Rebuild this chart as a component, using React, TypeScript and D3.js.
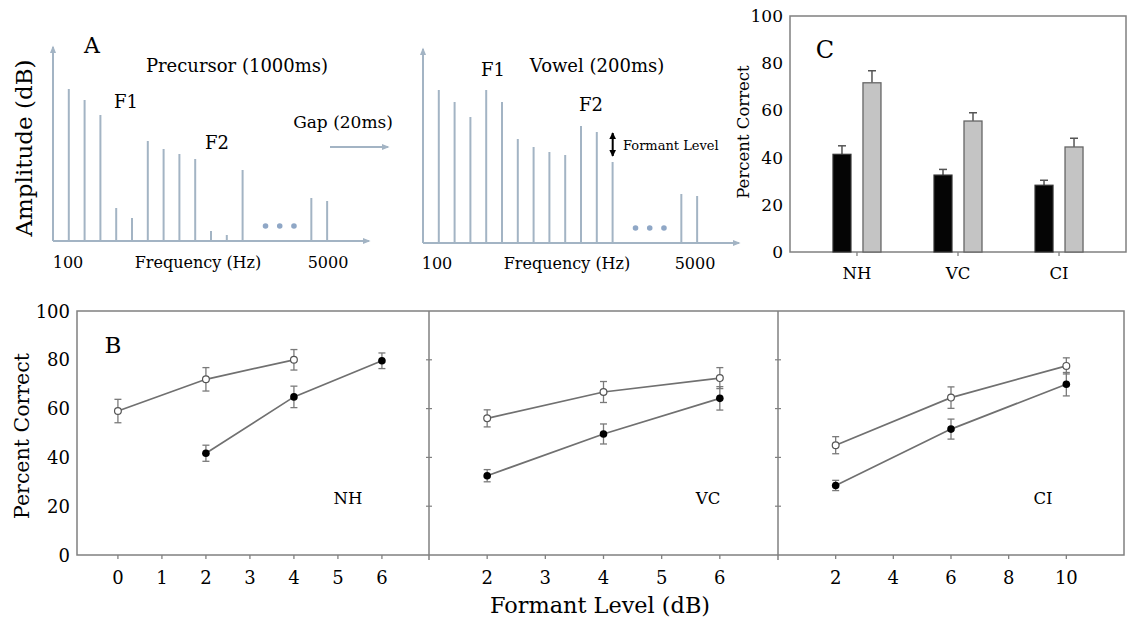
import React from 'react';
import * as d3 from 'd3';

// Panel A: harmonic spectra (arbitrary amplitude units)
const harmonicIndex = [1, 2, 3, 4, 5, 6, 7, 8, 9, 10, 11, 12];
const precursorAmp = [152, 141, 126, 33, 23, 100, 92, 87, 82, 10, 6, 71];
const vowelAmp = [153, 141, 126, 153, 141, 104, 96, 91, 88, 117, 111, 81];
const highIndex = [16.35, 17.35];
const precursorHighAmp = [43, 40];
const vowelHighAmp = [49, 47];
const ellipsisIndex = [13.45, 14.35, 15.25];
const ellipsisAmp = 15;

// Panel B: percent correct vs formant level
const nhOpenLevels = [0, 2, 4];
const nhOpen = [59, 72, 80];
const nhOpenErr = [4.8, 4.8, 4.2];
const nhFilledLevels = [2, 4, 6];
const nhFilled = [41.7, 64.8, 79.6];
const nhFilledErr = [3.3, 4.4, 3.2];

const vcLevels = [2, 4, 6];
const vcOpen = [56, 66.8, 72.5];
const vcOpenErr = [3.5, 4.3, 4.3];
const vcFilled = [32.5, 49.6, 64.2];
const vcFilledErr = [2.5, 4.1, 4.8];

const ciLevels = [2, 6, 10];
const ciOpen = [45, 64.5, 77.5];
const ciOpenErr = [3.5, 4.4, 3.3];
const ciFilled = [28.5, 51.6, 70];
const ciFilledErr = [2.1, 4.1, 4.8];

const nhTicks = [0, 1, 2, 3, 4, 5, 6];
const vcTicks = [2, 3, 4, 5, 6];
const ciTicks = [2, 4, 6, 8, 10];
const percentTicks = [0, 20, 40, 60, 80, 100];

// Panel C: bar summary
const groups = ['NH', 'VC', 'CI'];
const blackBars = [41.4, 32.6, 28.3];
const blackErr = [3.6, 2.4, 2.1];
const grayBars = [71.7, 55.5, 44.5];
const grayErr = [5.1, 3.5, 3.7];

const FONT = '"DejaVu Serif", serif';
const AX = '#a3b4c4';

type SpecProps = { x0: number; base: number; amps: number[]; highAmps: number[] };

const Spectrum = ({ x0, base, amps, highAmps }: SpecProps) => {
  const x = d3.scaleLinear().domain([0, 20]).range([x0, x0 + 20 * 15.8]);
  const y = d3.scaleLinear().domain([0, 194]).range([base, base - 194]);
  return (
    <g>
      <line x1={x(0)} x2={x(20)} y1={y(0)} y2={y(0)} stroke={AX} strokeWidth={2} markerEnd="url(#axArrow)" />
      <line x1={x(0)} x2={x(0)} y1={y(0)} y2={y(194)} stroke={AX} strokeWidth={2} markerEnd="url(#axArrow)" />
      {harmonicIndex.map((h, i) => (
        <line key={h} x1={x(h)} x2={x(h)} y1={y(0)} y2={y(amps[i])} stroke={AX} strokeWidth={2} />
      ))}
      {highIndex.map((h, i) => (
        <line key={h} x1={x(h)} x2={x(h)} y1={y(0)} y2={y(highAmps[i])} stroke={AX} strokeWidth={2} />
      ))}
      {ellipsisIndex.map(h => (
        <circle key={h} cx={x(h)} cy={y(ellipsisAmp)} r={2.8} fill="#8fa7c6" />
      ))}
    </g>
  );
};

type SeriesProps = {
  x: d3.ScaleLinear<number, number>;
  y: d3.ScaleLinear<number, number>;
  levels: number[];
  vals: number[];
  errs: number[];
  open: boolean;
};

const Series = ({ x, y, levels, vals, errs, open }: SeriesProps) => {
  const pts = levels.map((l, i) => [x(l), y(vals[i])] as [number, number]);
  const line = d3.line();
  return (
    <g>
      <path d={line(pts) || ''} fill="none" stroke="#707070" strokeWidth={1.7} />
      {levels.map((l, i) => (
        <g key={l} stroke="#7a7a7a" strokeWidth={1.3}>
          <line x1={x(l)} x2={x(l)} y1={y(vals[i] - errs[i])} y2={y(vals[i] + errs[i])} />
          <line x1={x(l) - 3.5} x2={x(l) + 3.5} y1={y(vals[i] - errs[i])} y2={y(vals[i] - errs[i])} />
          <line x1={x(l) - 3.5} x2={x(l) + 3.5} y1={y(vals[i] + errs[i])} y2={y(vals[i] + errs[i])} />
        </g>
      ))}
      {levels.map((l, i) =>
        open ? (
          <circle key={l} cx={x(l)} cy={y(vals[i])} r={3.4} fill="#fff" stroke="#555" strokeWidth={1.2} />
        ) : (
          <circle key={l} cx={x(l)} cy={y(vals[i])} r={3.8} fill="#000" />
        )
      )}
    </g>
  );
};

export default function App() {
  // Panel B scales
  const yB = d3.scaleLinear().domain([0, 100]).range([555, 311]);
  const xNH = d3.scaleLinear().domain([-0.93, 7.07]).range([77, 429]);
  const xVC = d3.scaleLinear().domain([1, 7]).range([429, 778]);
  const xCI = d3.scaleLinear().domain([0, 12]).range([778, 1124]);
  const panels = [
    { x: xNH, ticks: nhTicks, name: 'NH', lx: 348 },
    { x: xVC, ticks: vcTicks, name: 'VC', lx: 708 },
    { x: xCI, ticks: ciTicks, name: 'CI', lx: 1043 },
  ];

  // Panel C scales
  const yC = d3.scaleLinear().domain([0, 100]).range([252, 16]);
  const xC = d3.scalePoint().domain(groups).range([790, 1126]).padding(0.663);
  const inner = d3.scaleBand().domain(['black', 'gray']).range([-24, 24]).paddingInner(0.4);
  const bw = inner.bandwidth();

  const frame = '#808080';

  return (
    <svg width={1131} height={618} style={{ position: 'absolute', left: 0, top: 0, background: '#fff' }} fontFamily={FONT}>
      <defs>
        <marker id="axArrow" viewBox="0 0 10 10" refX="8" refY="5" markerWidth="4" markerHeight="4" orient="auto">
          <path d="M0,1 L10,5 L0,9 z" fill={AX} />
        </marker>
        <marker id="blkArrow" viewBox="0 0 10 10" refX="9" refY="5" markerWidth="3.5" markerHeight="3.5" orient="auto-start-reverse">
          <path d="M0,0 L10,5 L0,10 z" fill="#000" />
        </marker>
      </defs>

      {/* Panel A */}
      <Spectrum x0={53} base={241} amps={precursorAmp} highAmps={precursorHighAmp} />
      <Spectrum x0={423} base={243} amps={vowelAmp} highAmps={vowelHighAmp} />
      <text x={92} y={45} fontSize={22} textAnchor="middle" dominantBaseline="central">A</text>
      <text transform="translate(24,148) rotate(-90)" fontSize={23} textAnchor="middle" dominantBaseline="central">Amplitude (dB)</text>
      <text x={237} y={65} fontSize={18} textAnchor="middle" dominantBaseline="central">Precursor (1000ms)</text>
      <text x={126} y={101} fontSize={18} textAnchor="middle" dominantBaseline="central">F1</text>
      <text x={217} y={142} fontSize={18} textAnchor="middle" dominantBaseline="central">F2</text>
      <text x={68} y={262} fontSize={16} textAnchor="middle" dominantBaseline="central">100</text>
      <text x={198} y={262} fontSize={16} textAnchor="middle" dominantBaseline="central">Frequency (Hz)</text>
      <text x={328} y={262} fontSize={16} textAnchor="middle" dominantBaseline="central">5000</text>
      <text x={343} y={122} fontSize={17} textAnchor="middle" dominantBaseline="central">Gap (20ms)</text>
      <line x1={330} x2={388} y1={147} y2={147} stroke={AX} strokeWidth={2} markerEnd="url(#axArrow)" />

      <text x={493} y={69} fontSize={18} textAnchor="middle" dominantBaseline="central">F1</text>
      <text x={597} y={65} fontSize={18} textAnchor="middle" dominantBaseline="central">Vowel (200ms)</text>
      <text x={591} y={104} fontSize={18} textAnchor="middle" dominantBaseline="central">F2</text>
      <line x1={612.7} x2={612.7} y1={133} y2={156} stroke="#000" strokeWidth={2} markerEnd="url(#blkArrow)" markerStart="url(#blkArrow)" />
      <text x={623} y={145} fontSize={13} dominantBaseline="central">Formant Level</text>
      <text x={437} y={263} fontSize={16} textAnchor="middle" dominantBaseline="central">100</text>
      <text x={567} y={263} fontSize={16} textAnchor="middle" dominantBaseline="central">Frequency (Hz)</text>
      <text x={695} y={263} fontSize={16} textAnchor="middle" dominantBaseline="central">5000</text>

      {/* Panel C */}
      <rect x={790} y={16} width={336} height={236} fill="none" stroke={frame} strokeWidth={1.5} />
      {percentTicks.map(t => (
        <text key={t} x={783} y={yC(t)} fontSize={17} textAnchor="end" dominantBaseline="central">{t}</text>
      ))}
      <text transform="translate(743,132) rotate(-90)" fontSize={16.5} textAnchor="middle" dominantBaseline="central">Percent Correct</text>
      <text x={825} y={50} fontSize={24} textAnchor="middle" dominantBaseline="central">C</text>
      {groups.map((g, i) => {
        const cx = xC(g) as number;
        const bx = cx + (inner('black') as number);
        const gx = cx + (inner('gray') as number);
        return (
          <g key={g}>
            <line x1={cx} x2={cx} y1={252} y2={256} stroke={frame} strokeWidth={1.3} />
            <text x={cx} y={273} fontSize={16.5} textAnchor="middle" dominantBaseline="central">{g}</text>
            <g stroke="#555" strokeWidth={1.5}>
              <line x1={bx + bw / 2} x2={bx + bw / 2} y1={yC(blackBars[i])} y2={yC(blackBars[i] + blackErr[i])} />
              <line x1={bx + bw / 2 - 4} x2={bx + bw / 2 + 4} y1={yC(blackBars[i] + blackErr[i])} y2={yC(blackBars[i] + blackErr[i])} />
              <line x1={gx + bw / 2} x2={gx + bw / 2} y1={yC(grayBars[i])} y2={yC(grayBars[i] + grayErr[i])} />
              <line x1={gx + bw / 2 - 4} x2={gx + bw / 2 + 4} y1={yC(grayBars[i] + grayErr[i])} y2={yC(grayBars[i] + grayErr[i])} />
            </g>
            <rect x={bx} y={yC(blackBars[i])} width={bw} height={yC(0) - yC(blackBars[i])} fill="#050505" stroke="#333" strokeWidth={1.2} />
            <rect x={gx} y={yC(grayBars[i])} width={bw} height={yC(0) - yC(grayBars[i])} fill="#c4c4c4" stroke="#666" strokeWidth={1.3} />
          </g>
        );
      })}

      {/* Panel B */}
      <rect x={77} y={311} width={1047} height={244} fill="none" stroke={frame} strokeWidth={1.5} />
      {[429, 778].map(px => (
        <g key={px} stroke={frame}>
          <line x1={px} x2={px} y1={311} y2={560} strokeWidth={1.5} />
          {percentTicks.slice(1, 5).map(t => (
            <line key={t} x1={px - 3} x2={px + 3} y1={yB(t)} y2={yB(t)} strokeWidth={1.2} />
          ))}
        </g>
      ))}
      {percentTicks.map(t => (
        <text key={t} x={70} y={yB(t)} fontSize={18} textAnchor="end" dominantBaseline="central">{t}</text>
      ))}
      <text transform="translate(22,436) rotate(-90)" fontSize={20.5} textAnchor="middle" dominantBaseline="central">Percent Correct</text>
      <text x={113} y={345} fontSize={23} textAnchor="middle" dominantBaseline="central">B</text>
      {panels.map(p => (
        <g key={p.name}>
          {p.ticks.map(t => (
            <g key={t}>
              <line x1={p.x(t)} x2={p.x(t)} y1={555} y2={559} stroke={frame} strokeWidth={1.3} />
              <text x={p.x(t)} y={577} fontSize={18} textAnchor="middle" dominantBaseline="central">{t}</text>
            </g>
          ))}
          <text x={p.lx} y={498} fontSize={16.5} textAnchor="middle" dominantBaseline="central">{p.name}</text>
        </g>
      ))}
      <Series x={xNH} y={yB} levels={nhOpenLevels} vals={nhOpen} errs={nhOpenErr} open />
      <Series x={xNH} y={yB} levels={nhFilledLevels} vals={nhFilled} errs={nhFilledErr} open={false} />
      <Series x={xVC} y={yB} levels={vcLevels} vals={vcOpen} errs={vcOpenErr} open />
      <Series x={xVC} y={yB} levels={vcLevels} vals={vcFilled} errs={vcFilledErr} open={false} />
      <Series x={xCI} y={yB} levels={ciLevels} vals={ciOpen} errs={ciOpenErr} open />
      <Series x={xCI} y={yB} levels={ciLevels} vals={ciFilled} errs={ciFilledErr} open={false} />
      <text x={600} y={605} fontSize={22.4} textAnchor="middle" dominantBaseline="central">Formant Level (dB)</text>
    </svg>
  );
}
